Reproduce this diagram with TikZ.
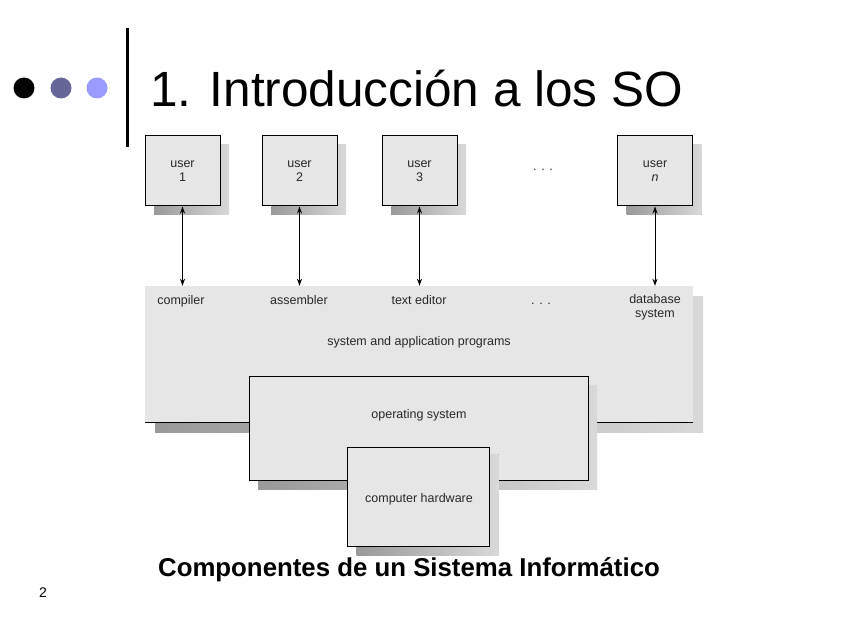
\documentclass[tikz,border=0pt]{standalone}
\definecolor{dotGray}{RGB}{102, 102, 153}
\definecolor{dotBlue}{RGB}{153, 153, 255}
\definecolor{boxGray}{RGB}{230, 230, 230}
\definecolor{labelInk}{RGB}{40, 40, 40}
\usepackage{fontspec}
\setmainfont{Liberation Sans}
\usepackage{tikz}
\usetikzlibrary{shapes,arrows,positioning,calc,shadows,arrows.meta}

\tikzset{
    layerbox/.style={fill=boxGray,draw=black,line width=1pt,
        drop shadow={shadow xshift=9pt,shadow yshift=-9pt,opacity=1,
                     left color=gray!80,right color=gray!30}},
    userbox/.style={layerbox,minimum width=75pt,minimum height=70pt,
        font=\fontsize{12.5}{14}\selectfont,text=labelInk,align=center},
    layertext/.style={font=\fontsize{12.5}{14}\selectfont,text=labelInk,align=center},
    dblarrow/.style={{Stealth[length=7pt,width=5pt]}-{Stealth[length=7pt,width=5pt]},line width=1pt}
}

\begin{document}
\begin{tikzpicture}[x=1pt,y=-1pt]
                \useasboundingbox (0,0) rectangle (848,636);
                % slide header
                \fill[black] (24,88) circle (10.5);
                \fill[dotGray] (61,88) circle (10.5);
                \fill[dotBlue] (97,88) circle (10.5);
                \draw[line width=3pt] (127,28) -- (127,147);
                \node[anchor=base west,inner sep=0pt,font=\fontsize{49.5}{56}\selectfont] (title) at (150,107) {1. Introducción a los SO};

                % users
                \node[userbox] (user1) at (182.5,171) {user\\1};
                \node[userbox] (user2) at (299.5,171) {user\\2};
                \node[userbox] (user3) at (419.5,171) {user\\3};
                \node[layertext,anchor=base] (udots) at (543,171) {. . .};
                \node[userbox] (usern) at (655,171) {user\\\textit{n}};

                % layers
                \node[fill=boxGray,minimum width=548pt,minimum height=136pt,inner sep=0pt,
                      drop shadow={shadow xshift=10pt,shadow yshift=-10pt,opacity=1,left color=gray!80,right color=gray!30}] (apps) at (419,354) {};
                \draw[line width=1.2pt] (apps.south west) -- (apps.south east);
                \node[layertext,anchor=base] (cmp) at (181,304) {compiler};
                \node[layertext,anchor=base] (asm) at (299,304) {assembler};
                \node[layertext,anchor=base] (edt) at (419,304) {text editor};
                \node[layertext,anchor=base] (pdots) at (541,304) {. . .};
                \node[layertext,anchor=north] (dbs) at (655,291) {database\\system};
                \node[layertext,anchor=base] (sap) at (419,345) {system and application programs};

                \node[layerbox,minimum width=339pt,minimum height=104pt,inner sep=0pt] (os) at (418.5,428) {};
                \node[layertext,anchor=base] at (419,418) {operating system};
                \node[layerbox,minimum width=142pt,minimum height=99pt,inner sep=0pt,
                      drop shadow={shadow xshift=9pt,shadow yshift=-7pt,opacity=1,left color=gray!80,right color=gray!30}] (hw) at (418.5,496.5) {};
                \node[layertext,anchor=base] at (419,502) {computer hardware};

                % user <-> program arrows
                \foreach \u in {user1,user2,user3,usern}
                    \draw[dblarrow] (\u.south) -- (\u.south |- apps.north);

                % caption and page number
                \node[anchor=base,font=\bfseries\fontsize{25.8}{30}\selectfont] (caption) at (409,576) {Componentes de un Sistema Informático};
                \node[font=\fontsize{14}{16}\selectfont] (page) at (43,593) {2};
            \end{tikzpicture}
\end{document}
